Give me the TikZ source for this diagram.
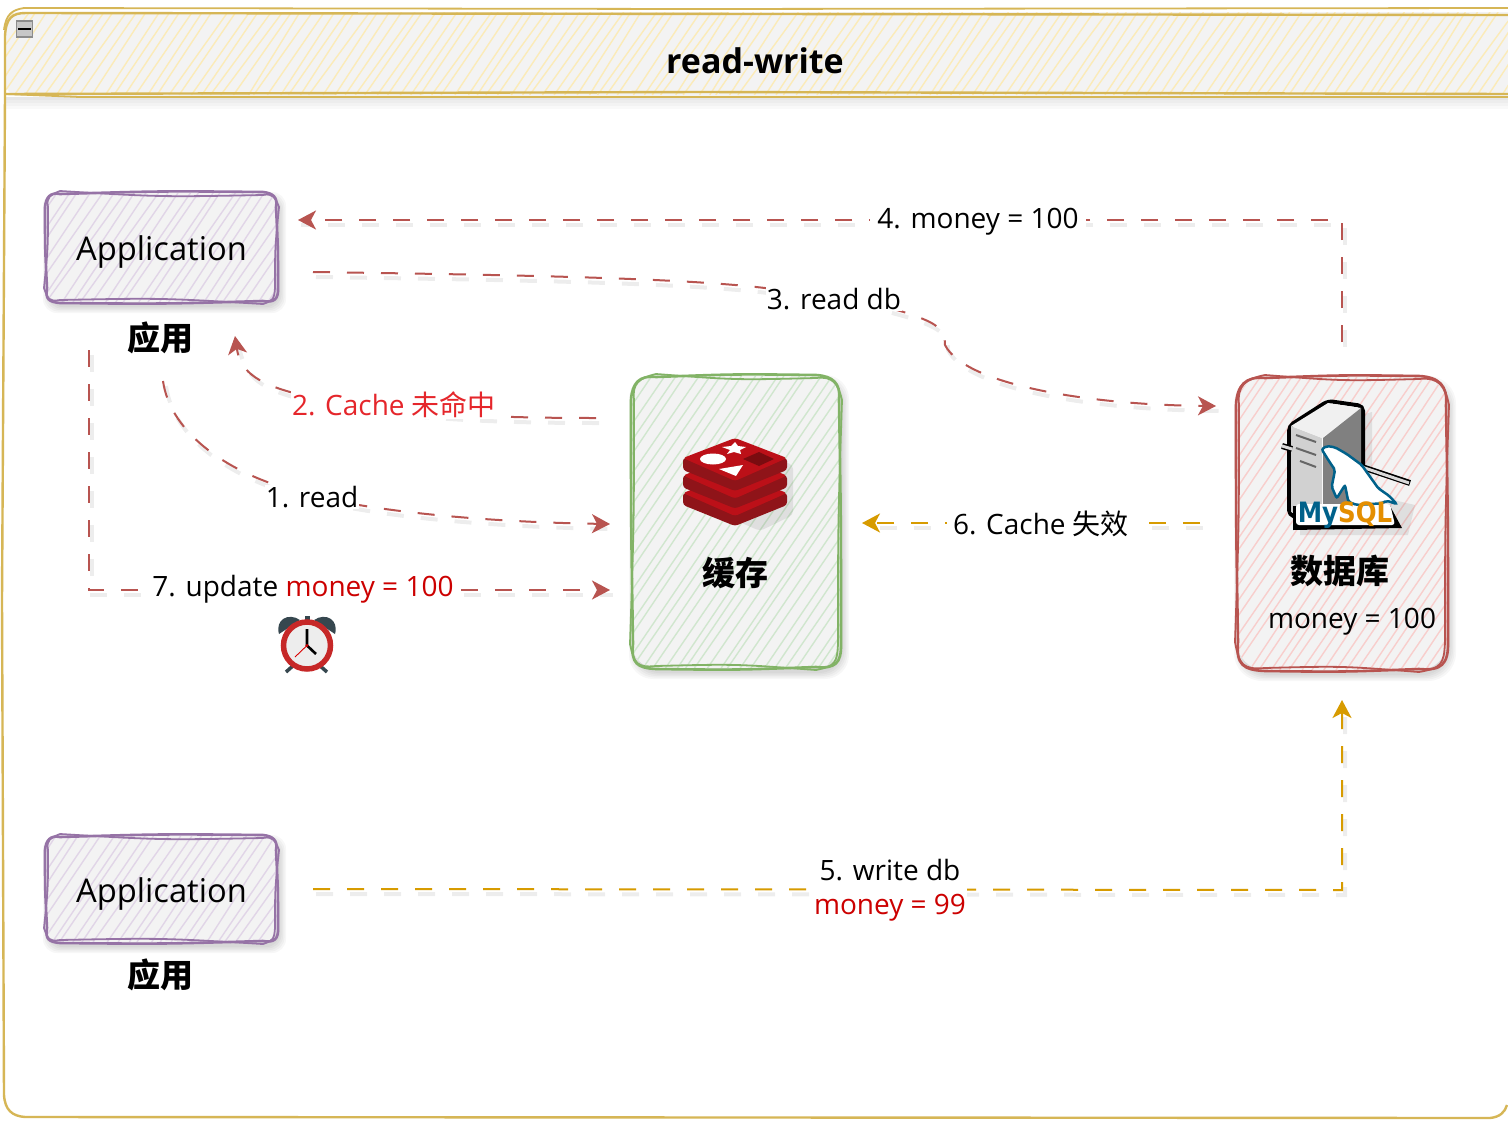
\documentclass[tikz,border=0pt]{standalone}
\usepackage{fontspec}
\setmainfont{Open Sans}
\newfontfamily\cjk{Noto Sans CJK SC}
\newfontfamily\logofont{DejaVu Sans}
\usetikzlibrary{arrows.meta,calc}
\definecolor{laneC}{HTML}{D6B656}\definecolor{laneH}{HTML}{FBEBB8}
\definecolor{appC}{HTML}{9673A6}\definecolor{appH}{HTML}{E1D5E7}
\definecolor{cacheC}{HTML}{82B366}\definecolor{cacheH}{HTML}{D0E6CE}
\definecolor{dbC}{HTML}{B85450}\definecolor{dbH}{HTML}{F8CECC}
\definecolor{edgeR}{HTML}{B85450}\definecolor{edgeY}{HTML}{D79B00}
\definecolor{redT}{HTML}{CC0000}\definecolor{redL}{HTML}{E5262B}
\definecolor{panel}{HTML}{F3F3F3}
\definecolor{redisA}{HTML}{BC1018}\definecolor{redisB}{HTML}{8F1419}\definecolor{redisC}{HTML}{7A0C10}
\definecolor{bell}{HTML}{36474F}\definecolor{clockR}{HTML}{C62828}
\definecolor{myB}{HTML}{00618A}\definecolor{myO}{HTML}{E48E00}
\newcommand{\fs}[1]{\fontsize{#1}{#1}\selectfont}
\newcommand{\skstroke}[6]{% x1 y1 x2 y2 r j
  ({#1+#5},{#2+#6}) .. controls ({(#1+#3)/2},{#2-2*#6}) .. ({#3-#5},{#2-#6})
  .. controls ({#3-.3*#5},{#2}) and ({#3+#6},{#2+.3*#5}) .. ({#3-#6},{#2+#5})
  .. controls ({#3+#6},{(#2+#4)/2}) .. ({#3+#6},{#4-#5})
  .. controls ({#3+1.5*#6},{#4-.2*#5}) and ({#3-.2*#5},{#4+#6}) .. ({#3-#5},{#4-#6})
  .. controls ({(#1+#3)/2},{#4+2*#6}) .. ({#1+#5},{#4+#6})
  .. controls ({#1+.2*#5},{#4}) and ({#1-#6},{#4-.2*#5}) .. ({#1+#6},{#4-#5})
  .. controls ({#1-#6},{(#2+#4)/2}) .. ({#1-#6},{#2+#5})
  .. controls ({#1},{#2+.3*#5}) and ({#1+.3*#5},{#2-#6}) .. ({#1+#5},{#2+#6})
}
\newcommand{\skhatch}[6]{% x1 y1 x2 y2 r colour
  \begin{scope}
    \clip[rounded corners=#5] (#1,#2) rectangle (#3,#4);
    \pgfmathsetmacro\skdx{0.68*(#4-#2)}
    \pgfmathtruncatemacro\skn{(#3-#1+\skdx)/11}
    \foreach \skk in {0,...,\skn}{
      \draw[#6,line width=1.4pt] ({#1-\skdx+\skk*11+3*rand},#4) -- ({#1+\skk*11+3*rand},#2);
    }
  \end{scope}
}
\newcommand{\skshadow}[5]{% x1 y1 x2 y2 r
  \foreach \sks in {0,1.5,3,4.5,6}{
    \fill[black,opacity=.03,rounded corners=#5] ({#1+3-\sks},{#2+5-\sks}) rectangle ({#3+3+\sks},{#4+5+\sks});
  }
}
\newcommand{\skbox}[7]{% x1 y1 x2 y2 r stroke hatch
  \skshadow{#1}{#2}{#3}{#4}{#5}
  \fill[panel,rounded corners=#5] (#1,#2) rectangle (#3,#4);
  \skhatch{#1}{#2}{#3}{#4}{#5}{#7}
  \draw[#6,line width=2.6pt] \skstroke{#1}{#2}{#3}{#4}{#5}{1};
  \draw[#6,line width=1.8pt] \skstroke{#1}{#2}{#3}{#4}{#5}{-2};
}
\tikzset{
  conn/.style={line width=2pt,dash pattern=on 17pt off 17pt,
    preaction={draw=black,draw opacity=.07,line width=4pt,dash pattern=on 17pt off 17pt,transform canvas={shift={(3pt,-5pt)}},arrows=-},
    arrows={-Stealth[length=18pt,width=19pt,inset=5pt]}},
  lbl/.style={fill=white,inner sep=1pt,font=\fs{28}},
  plain/.style={inner sep=0pt,font=\fs{28}},
  cn/.style={inner sep=0pt,font=\cjk\bfseries\fs{33}},
}
\begin{document}
\begin{tikzpicture}[x=1pt,y=-1pt]
\pgfmathsetseed{17}
\useasboundingbox (0,0) rectangle (1508,1122);
\fill[white] (0,0) rectangle (1508,1122);
%% swimlane
\fill[panel,rounded corners=14] (5,12) -- (1520,12) -- (1520,96) -- (5,96) -- cycle;
\skhatch{5}{12}{1508}{95}{10}{laneH}
\foreach \sks in {3,6,9,12}{\fill[black,opacity=.022] (5,97) rectangle (1508,{97+\sks});}
\draw[laneC,line width=2.4pt] (1508,15) -- (26,13) .. controls (12,13) and (6,18) .. (5,36) -- (5,96) -- (2,600) -- (4,1095) .. controls (5,1110) and (12,1116) .. (25,1117) -- (1490,1118) .. controls (1500,1117) and (1505,1112) .. (1507,1105);
\draw[laneC,line width=1.8pt] (1508,8) -- (700,9) -- (24,8) .. controls (12,10) and (6,14) .. (4,30);
\draw[laneC,line width=2.4pt] (6,94) -- (700,92) -- (1508,94);
\draw[laneC,line width=1.8pt] (6,94) -- (80,97) -- (1508,97);
\node[inner sep=0pt,font=\bfseries\fs{34}] (title) at (755,61) {read-write};
\node[draw=black!45,line width=1.5pt,fill=black!22,minimum width=16pt,minimum height=16pt,inner sep=0pt] (collapse) at (24.5,29) {};
\draw[black,line width=2pt] (18,29) -- (31,29);
%% boxes
\skbox{46}{193}{277}{302}{14}{appC}{appH}
\node[inner sep=0pt,minimum width=231pt,minimum height=109pt,font=\fs{32.7}] (app1) at (161.5,252) {Application};
\skbox{46}{836}{277}{942}{14}{appC}{appH}
\node[inner sep=0pt,minimum width=231pt,minimum height=106pt,font=\fs{32.7}] (app2) at (161.5,894) {Application};
\skbox{632}{376}{840}{668}{24}{cacheC}{cacheH}
\node[inner sep=0pt,minimum width=208pt,minimum height=292pt] (cache) at (736,522) {};
\skbox{1237}{377}{1447}{670}{28}{dbC}{dbH}
\node[inner sep=0pt,minimum width=210pt,minimum height=293pt] (db) at (1342,523.5) {};
\node[cn] (lblapp1) at (160,338) {应用};
\node[cn] (lblapp2) at (160,975) {应用};
\node[cn] (lblcache) at (735,573) {缓存};
\node[cn] (lbldb) at (1340,570.5) {数据库};
\node[plain] (money) at (1352,622) {money = 100};
%% redis logo
\begin{scope}
  \fill[black,opacity=.08,rounded corners=4] (688,500) -- (735,520) -- (760,531) -- (793,515) -- (793,465) -- (780,460) -- (780,500) -- cycle;
  \foreach \dy in {35,17.5,0}{
    \fill[redisB,rounded corners=3] (683,{458+\dy}) -- (683,{470+\dy}) -- (735,{491+\dy}) -- (787,{470+\dy}) -- (787,{458+\dy}) -- cycle;
    \fill[redisA,rounded corners=3] (683,{458+\dy}) -- (735,{438+\dy}) -- (787,{458+\dy}) -- (735,{481+\dy}) -- cycle;
  }
  \fill[redisC] (743,459) -- (759,452) -- (774,459) -- (759,466) -- cycle;
  \fill[white] (713,459) ellipse [x radius=13,y radius=5.5];
  \fill[white] (719,469) -- (743,465) -- (736,476) -- cycle;
  \fill[white] (735,442) -- (738,446) -- (746,447) -- (740,450) -- (741,454) -- (734,452) -- (727,454) -- (730,450) -- (722,447) -- (731,446) -- cycle;
\end{scope}
%% mysql logo
\begin{scope}
  \fill[black,opacity=.08] (1300,432) -- (1372,412) -- (1372,495) -- (1415,505) -- (1408,535) -- (1300,535) -- cycle;
  \fill[white,draw=black,line width=4pt,rounded corners=5] (1289,515) -- (1289,426) -- (1328,401) -- (1363,406) -- (1363,505) -- (1325,525) -- cycle;
  \fill[black!18] (1291,426) -- (1322,438) -- (1322,520) -- (1291,512) -- cycle;
  \fill[black!6] (1291,426) -- (1328,403) -- (1361,408) -- (1322,438) -- cycle;
  \fill[black!50] (1323,438) -- (1361,408) -- (1361,504) -- (1323,522) -- cycle;
  \draw[black!60,line width=2pt] (1296,435) -- (1316,442) (1296,448) -- (1316,455) (1300,461) -- (1316,467);
  \draw[black,line width=6pt] (1282,446) -- (1292,449) (1350,463) -- (1410,483);
  \draw[black!15,line width=3pt] (1282,446) -- (1292,449) (1350,463) -- (1409,483);
  \fill[black] (1293,506) -- (1390,506) -- (1402,528) -- (1293,530) -- cycle;
  \fill[white,rounded corners=3] (1296,504) -- (1390,504) -- (1395,525) -- (1296,525) -- cycle;
  \fill[white,draw=myB,line width=2.5pt,rounded corners=2] (1321.7,449.3) -- (1326.7,446) -- (1335,447.3) -- (1346.7,454) -- (1361.7,465) -- (1370,476.7) -- (1378.3,488.3) -- (1389.3,496) -- (1396.7,504) -- (1386.7,500.7) -- (1381.7,503.3) -- (1356.7,505) -- (1348.3,501.7) -- (1345,485) -- (1336.7,498.3) -- (1331.7,486.7) -- (1335,470) -- (1328.3,460) -- cycle;
  \node[inner sep=0pt,font=\logofont\bfseries\fs{25}] (mysql) at (1345,515.5) {\scalebox{.98}[1.12]{\textcolor{myB}{My}\textcolor{myO}{SQL}}};
\end{scope}
%% clock
\begin{scope}
  \fill[bell] (279,634) .. controls (275,620) and (288,612) .. (300,620) -- cycle;
  \fill[bell] (335,634) .. controls (339,620) and (326,612) .. (314,620) -- cycle;
  \fill[bell] (304.5,616) rectangle (309.5,622);
  \draw[bell,line width=3.5pt] (295,664) -- (286,672) (318,664) -- (327,672);
  \node[circle,draw=clockR,fill=black!7,line width=5.5pt,minimum size=47pt,inner sep=0pt] (clock) at (307,645.5) {};
  \draw[black,line width=2.6pt] (307,629) -- (clock.center) -- (316,654);
  \draw[red!85!black,line width=.9pt] (clock.center) -- (295,657);
  \fill[red!80!black] (clock.center) circle (1.6);
\end{scope}
%% connector end points
\coordinate (e4s) at (1342,342);\coordinate (e4c) at (1342,220);\coordinate (e4e) at (298,220);
\coordinate (e3s) at (313,272);\coordinate (e3e) at (1216,406);
\coordinate (e2s) at (596,418);\coordinate (e2e) at (235,336);
\coordinate (e1s) at (163,381);\coordinate (e1e) at (610,524);
\coordinate (e7s) at (89,350);\coordinate (e7c) at (89,590);\coordinate (e7e) at (610,590);
\coordinate (e6s) at (1200,523);\coordinate (e6e) at (862,523);
\coordinate (e5s) at (313,889);\coordinate (e5c) at (1342,890);\coordinate (e5e) at (1342,700);
%% connectors
\draw[conn,edgeR] (e4s) -- (e4c) -- (e4e);
\draw[conn,edgeR] (e3s) .. controls (520,275) and (680,278) .. (765,288) .. controls (800,292) and (860,298) .. (910,314) .. controls (935,323) and (945,328) .. (945,345) .. controls (965,385) and (1090,405) .. (e3e);
\draw[conn,edgeR] (e2s) .. controls (500,418) and (380,415) .. (290,392) .. controls (255,382) and (240,370) .. (e2e);
\draw[conn,edgeR] (e1s) .. controls (170,430) and (220,465) .. (270,483) .. controls (340,510) and (480,522) .. (e1e);
\draw[conn,edgeR] (e7s) -- (e7c) -- (e7e);
\draw[conn,edgeY] (e6s) -- (e6e);
\draw[conn,edgeY] (e5s) -- (e5c) -- (e5e);
%% connector labels
\node[lbl,inner xsep=7pt] (l4) at (978,222) {4. money = 100};
\node[lbl] (l3) at (834,299) {3. read db};
\node[lbl,text=redL] (l2) at (394,405) {2. Cache {\cjk 未命中}};
\node[lbl] (l1) at (312,497) {1. read};
\node[lbl] (l7) at (303,589) {7. update \textcolor{redT}{money = 100}};
\node[lbl,inner xsep=6pt] (l6) at (1041,524) {6. Cache {\cjk 失效}};
\node[lbl,align=center] (l5) at (890,890) {5. write db\\[6pt]\textcolor{redT}{money = 99}};
\end{tikzpicture}
\end{document}
